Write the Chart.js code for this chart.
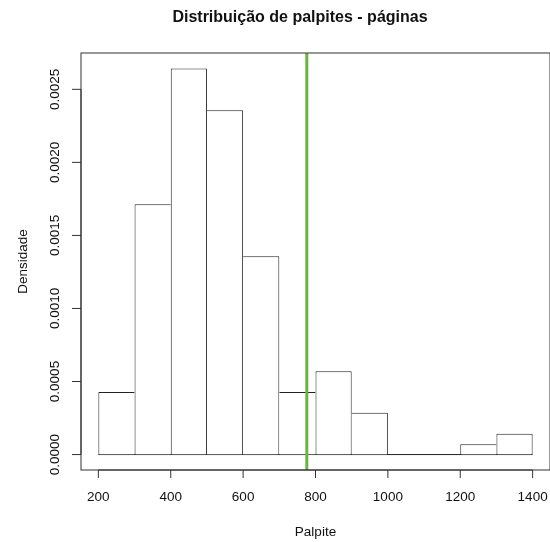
<!DOCTYPE html>
<html lang="pt">
  <head>
    <meta charset="UTF-8" />
    <title>Distribuição de palpites - páginas</title>
    <script src="https://cdn.jsdelivr.net/npm/chart.js"></script>
    <style>
      body { margin: 0; background: #fff; }
    </style>
  </head>
  <body>
    <canvas id="hist" width="550" height="542"></canvas>
    <script>
      // bin edges and density per bin (counts / (140 * 100))
      const breaks = [200, 300, 400, 500, 600, 700, 800, 900, 1000, 1100, 1200, 1300, 1400];
      const densities = [0.000429, 0.001714, 0.002643, 0.002357, 0.001357, 0.000429, 0.000571, 0.000286, 0, 0, 0.000071, 0.000143];
      const xTicks = [200, 400, 600, 800, 1000, 1200, 1400];
      const yTicks = [0, 0.0005, 0.001, 0.0015, 0.002, 0.0025];
      const yTickLabels = ["0.0000", "0.0005", "0.0010", "0.0015", "0.0020", "0.0025"];
      const markValue = 776; // green vertical line

      const titleText = "Distribuição de palpites - páginas";
      const xTitle = "Palpite";
      const yTitle = "Densidade";

      const FONT = '"Liberation Sans", Arial, Helvetica, sans-serif';

      // R style limits: 4% padding on each side
      const xPad = (breaks[breaks.length - 1] - breaks[0]) * 0.04;
      const yTop = Math.max(...densities);
      const yPad = yTop * 0.04;

      const barData = densities.map((d, i) => ({ x: (breaks[i] + breaks[i + 1]) / 2, y: d }));
      const baseline = [
        { x: breaks[0], y: 0 },
        { x: breaks[breaks.length - 1], y: 0 },
      ];

      // draw each shared edge only once so inner edges are not doubled
      function edgeWidths(ctx) {
        const i = ctx.dataIndex;
        const d = densities[i];
        if (d === 0) return 0;
        const prev = i > 0 ? densities[i - 1] : -1;
        const next = i < densities.length - 1 ? densities[i + 1] : -1;
        return {
          top: 1,
          bottom: 0,
          left: d >= prev ? 1 : 0,
          right: d > next ? 1 : 0,
        };
      }

      const rAxes = {
        id: "rAxes",
        afterDatasetsDraw(chart) {
          const c = chart.ctx;
          const a = chart.chartArea;
          const x = chart.scales.x;
          const y = chart.scales.y;
          c.save();

          // green reference line
          const gx = x.getPixelForValue(markValue);
          c.strokeStyle = "#6cb33f";
          c.lineWidth = 3;
          c.beginPath();
          c.moveTo(gx, a.top);
          c.lineTo(gx, a.bottom);
          c.stroke();

          // box
          c.strokeStyle = "#333";
          c.lineWidth = 1;
          c.strokeRect(a.left, a.top, a.right - a.left, a.bottom - a.top);

          c.fillStyle = "#111";
          c.font = "13.5px " + FONT;

          // x axis
          c.beginPath();
          c.moveTo(x.getPixelForValue(xTicks[0]), a.bottom);
          c.lineTo(x.getPixelForValue(xTicks[xTicks.length - 1]), a.bottom);
          xTicks.forEach((v) => {
            const px = x.getPixelForValue(v);
            c.moveTo(px, a.bottom);
            c.lineTo(px, a.bottom + 8);
          });
          c.stroke();
          c.textAlign = "center";
          c.textBaseline = "middle";
          xTicks.forEach((v) => {
            c.fillText(String(v), x.getPixelForValue(v), a.bottom + 27);
          });

          // y axis
          c.beginPath();
          c.moveTo(a.left, y.getPixelForValue(yTicks[0]));
          c.lineTo(a.left, y.getPixelForValue(yTicks[yTicks.length - 1]));
          yTicks.forEach((v) => {
            const py = y.getPixelForValue(v);
            c.moveTo(a.left, py);
            c.lineTo(a.left - 9, py);
          });
          c.stroke();
          yTicks.forEach((v, i) => {
            c.save();
            c.translate(a.left - 26, y.getPixelForValue(v));
            c.rotate(-Math.PI / 2);
            c.fillText(yTickLabels[i], 0, 0);
            c.restore();
          });

          // axis titles
          c.fillText(xTitle, (a.left + a.right) / 2, a.bottom + 62);
          c.save();
          c.translate(23, (a.top + a.bottom) / 2);
          c.rotate(-Math.PI / 2);
          c.fillText(yTitle, 0, 0);
          c.restore();

          // main title
          c.font = "bold 16px " + FONT;
          c.fillText(titleText, 300, 18);

          c.restore();
        },
      };

      new Chart(document.getElementById("hist"), {
        type: "bar",
        data: {
          datasets: [
            {
              type: "bar",
              data: barData,
              backgroundColor: "#fff",
              borderColor: "#222",
              borderWidth: edgeWidths,
              borderSkipped: "start",
              barPercentage: 1,
              categoryPercentage: 1,
              inflateAmount: 0,
            },
            {
              type: "line",
              data: baseline,
              borderColor: "#222",
              borderWidth: 1,
              pointRadius: 0,
              fill: false,
            },
          ],
        },
        options: {
          responsive: false,
          animation: false,
          layout: { padding: { left: 81, right: 0, top: 53, bottom: 72 } },
          plugins: {
            legend: { display: false },
            tooltip: { enabled: false },
          },
          scales: {
            x: {
              type: "linear",
              display: false,
              offset: false,
              min: breaks[0] - xPad,
              max: breaks[breaks.length - 1] + xPad,
              afterBuildTicks: (s) => {
                s.ticks = xTicks.map((v) => ({ value: v }));
              },
            },
            y: {
              type: "linear",
              display: false,
              min: -yPad,
              max: yTop + yPad,
            },
          },
        },
        plugins: [rAxes],
      });
    </script>
  </body>
</html>
